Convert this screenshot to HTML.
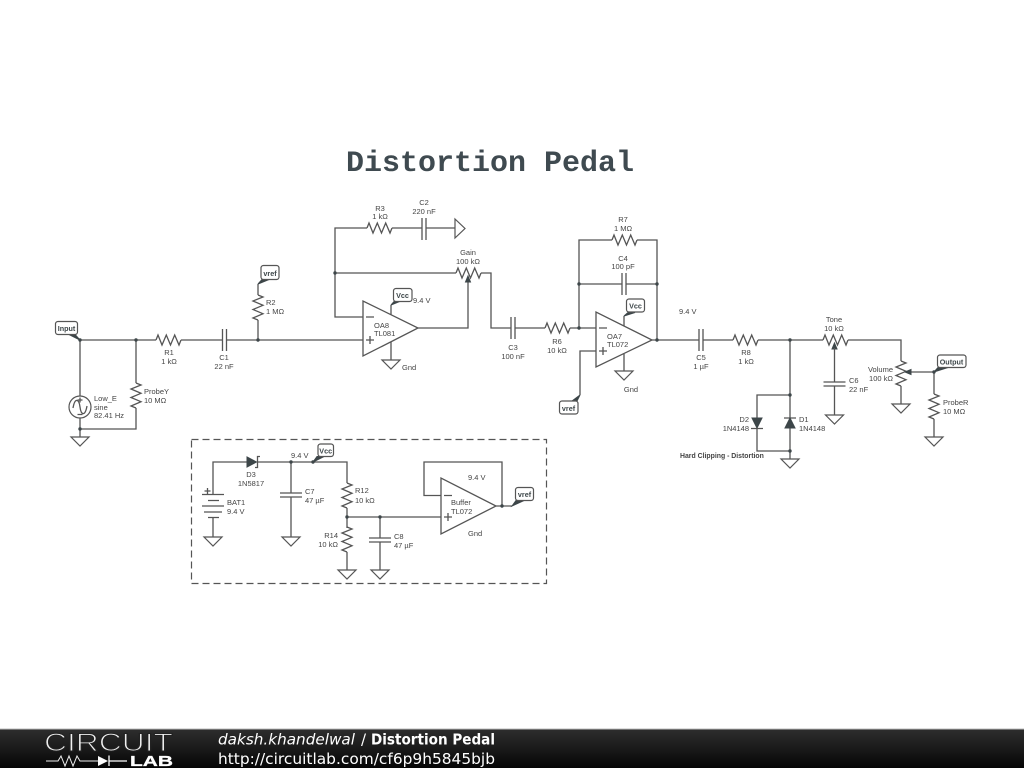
<!DOCTYPE html>
<html><head><meta charset="utf-8"><title>Distortion Pedal</title>
<style>
html,body{margin:0;padding:0;background:#fff;width:1024px;height:768px;overflow:hidden}
svg{display:block}
.w{fill:none;stroke:#555;stroke-width:1.3}
.k{fill:#3d4649;stroke:#3d4649;stroke-width:1}
text{font-family:"Liberation Sans",sans-serif;font-size:7.500px;fill:#444}
.c{text-anchor:middle}
.e{text-anchor:end}
.lb{fill:#fff;stroke:#555;stroke-width:1.2}
.t{font-weight:bold;font-size:7.200px;fill:#3d4649}
</style></head><body>
<svg width="1024" height="768" viewBox="0 0 1024 768" xmlns="http://www.w3.org/2000/svg">
<defs>
<path id="rh" d="M0 0L2 -5L6 5L10.300 -5L14.500 5L18.700 -5L23 5L25 0" fill="none" stroke="#555" stroke-width="1.3"/>
<path id="rv" d="M0 0L5 2L-5 6L5 10.300L-5 14.500L5 18.700L-5 23L0 25" fill="none" stroke="#555" stroke-width="1.3"/>
<path id="gnd" d="M-9 0H9L0 9Z" fill="#fff" stroke="#555" stroke-width="1.2"/>
<circle id="j" r="1.700" fill="#3d4649"/>
<linearGradient id="bar" x1="0" y1="0" x2="0" y2="1"><stop offset="0" stop-color="#2e2e2e"/><stop offset="0.5" stop-color="#1a1a1a"/><stop offset="1" stop-color="#050505"/></linearGradient>
</defs>
<rect width="1024" height="768" fill="#fff"/>
<text x="490" y="171" class="c" style="font-family:'Liberation Mono',monospace;font-size:30px;font-weight:bold;fill:#3f4a50">Distortion Pedal</text>

<!-- Input stage -->
<path class="w" d="M80 340H156M181 340H222.500M226.500 340H363M80 340V396M80 418V437M80 429H136V408M136 340V383"/>
<use href="#rh" x="156" y="340"/>
<path class="w" d="M222.500 329V351M226.500 329V351"/>
<use href="#rv" x="258" y="295"/>
<path class="w" d="M258 340V320M258 295V284"/>
<use href="#rv" x="136" y="383"/>
<circle cx="80" cy="407" r="11" fill="#fff" stroke="#555" stroke-width="1.2"/>
<path class="w" d="M73 408C75 397 79 399 80 407S85 417 87 406M80 397.500V402.500M77.500 400H82.500M77.500 414.500H82.500"/>
<use href="#gnd" x="80" y="437"/>
<use href="#j" x="80" y="340"/><use href="#j" x="136" y="340"/><use href="#j" x="258" y="340"/><use href="#j" x="80" y="429"/>
<path class="k" d="M80 340L69 334.500H75Z"/>
<rect class="lb" x="55.500" y="321.500" width="22" height="13" rx="2.500"/>
<text x="66.500" y="331" class="c t">Input</text>
<path class="k" d="M258 284L262 279.500H269Z"/>
<rect class="lb" x="261" y="265.500" width="18" height="14" rx="2.500"/>
<text x="270" y="276" class="c t">vref</text>
<text x="169" y="355" class="c">R1</text><text x="169" y="364" class="c">1 kΩ</text>
<text x="224" y="360" class="c">C1</text><text x="224" y="369" class="c">22 nF</text>
<text x="266" y="305">R2</text><text x="266" y="314">1 MΩ</text>
<text x="94" y="401">Low_E</text><text x="94" y="410">sine</text><text x="94" y="418">82.41 Hz</text>
<text x="144" y="394">ProbeY</text><text x="144" y="403">10 MΩ</text>

<!-- OA8 stage -->
<path class="w" d="M363 317H335V228H367M392 228H422M426 228H455M335 273H456M481 273H491V328H511M515 328H545M570 328H596M418 328H468V278"/>
<use href="#rh" x="367" y="228"/>
<path class="w" d="M422 218V240M426 218V240"/>
<path d="M455 219V238L465 228.500Z" fill="#fff" stroke="#555" stroke-width="1.2"/>
<use href="#rh" x="456" y="273"/>
<path class="k" d="M468 276L465.500 282H470.500Z"/>
<use href="#j" x="335" y="273"/>
<path d="M363 301V356L418 328Z" fill="#fff" stroke="#555" stroke-width="1.3"/>
<path class="w" d="M366 317H374M366 340H374M370 336V344M391 315V305M391 342V360"/>
<use href="#gnd" x="391" y="360"/>
<path class="k" d="M391 305L395 300.500H402Z"/>
<rect class="lb" x="393.500" y="288.500" width="18.500" height="13" rx="2.500"/>
<text x="402.500" y="298" class="c t">Vcc</text>
<text x="413" y="303">9.4 V</text>
<text x="374" y="328">OA8</text><text x="374" y="336">TL081</text>
<text x="402" y="370">Gnd</text>
<text x="380" y="211" class="c">R3</text><text x="380" y="219" class="c">1 kΩ</text>
<text x="424" y="205" class="c">C2</text><text x="424" y="214" class="c">220 nF</text>
<text x="468" y="255" class="c">Gain</text><text x="468" y="264" class="c">100 kΩ</text>

<!-- OA7 stage -->
<path class="w" d="M511 317V339M515 317V339"/>
<use href="#rh" x="545" y="328"/>
<path class="w" d="M579 328V240H612M637 240H657V340M579 284H622M626 284H657M652 340H699M703 340H733M758 340H823M848 340H901V361M596 351H580V395"/>
<use href="#rh" x="612" y="240"/>
<path class="w" d="M622 273V295M626 273V295"/>
<use href="#j" x="579" y="328"/><use href="#j" x="579" y="284"/><use href="#j" x="657" y="284"/><use href="#j" x="657" y="340"/>
<path d="M596 312V367L652 340Z" fill="#fff" stroke="#555" stroke-width="1.3"/>
<path class="w" d="M599 328H607M599 351H607M603 347V355M624 326V316M624 354V371"/>
<use href="#gnd" x="624" y="371"/>
<path class="k" d="M624 316L628 312.500H635Z"/>
<rect class="lb" x="626.500" y="299" width="18" height="13" rx="2.500"/>
<text x="635.500" y="308.500" class="c t">Vcc</text>
<path class="k" d="M580 395L572 401H577Z"/>
<rect class="lb" x="559.500" y="401" width="18.500" height="13" rx="2.500"/>
<text x="568.500" y="411" class="c t">vref</text>
<text x="607" y="339">OA7</text><text x="607" y="347">TL072</text>
<text x="631" y="392" class="c">Gnd</text>
<text x="623" y="222" class="c">R7</text><text x="623" y="231" class="c">1 MΩ</text>
<text x="623" y="261" class="c">C4</text><text x="623" y="269" class="c">100 pF</text>
<text x="513" y="350" class="c">C3</text><text x="513" y="359" class="c">100 nF</text>
<text x="557" y="344" class="c">R6</text><text x="557" y="353" class="c">10 kΩ</text>
<text x="679" y="314">9.4 V</text>

<!-- Output stage -->
<path class="w" d="M699 329V351M703 329V351"/>
<use href="#rh" x="733" y="340"/>
<use href="#rh" x="823" y="340"/>
<path class="k" d="M834.500 343L832 349H837Z"/>
<path class="w" d="M834.500 348V382M834.500 386V415M823.500 382H845.500M823.500 386H845.500"/>
<use href="#gnd" x="834.500" y="415"/>
<use href="#rv" x="901" y="361"/>
<path class="w" d="M901 386V404M908 372H934M934 372V394M934 419V437"/>
<path class="k" d="M905 372L911 369.500V374.500Z"/>
<use href="#gnd" x="901" y="404"/>
<use href="#rv" x="934" y="394"/>
<use href="#gnd" x="934" y="437"/>
<use href="#j" x="934" y="372"/>
<path class="k" d="M934 372L938 367.500H948Z"/>
<rect class="lb" x="937.500" y="355" width="28.500" height="12.500" rx="2.500"/>
<text x="951.500" y="364.500" class="c t">Output</text>
<path class="w" d="M790 340V459M790 395H757V451H790"/>
<use href="#j" x="790" y="340"/><use href="#j" x="790" y="395"/><use href="#j" x="790" y="451"/>
<path class="k" d="M752 418H762L757 428Z"/>
<path class="w" d="M751 428.500H763M784 418H796"/>
<path class="k" d="M785 428H795L790 418Z"/>
<use href="#gnd" x="790" y="459"/>
<text x="701" y="360" class="c">C5</text><text x="701" y="369" class="c">1 µF</text>
<text x="746" y="355" class="c">R8</text><text x="746" y="364" class="c">1 kΩ</text>
<text x="834" y="322" class="c">Tone</text><text x="834" y="331" class="c">10 kΩ</text>
<text x="849" y="383">C6</text><text x="849" y="392">22 nF</text>
<text x="893" y="372" class="e">Volume</text><text x="893" y="381" class="e">100 kΩ</text>
<text x="943" y="405">ProbeR</text><text x="943" y="414">10 MΩ</text>
<text x="749" y="422" class="e">D2</text><text x="749" y="431" class="e">1N4148</text>
<text x="799" y="422">D1</text><text x="799" y="431">1N4148</text>
<text x="680" y="458" style="font-weight:bold;font-size:6.900px">Hard Clipping - Distortion</text>

<!-- Power box -->
<rect x="191.500" y="439.500" width="355" height="144" fill="none" stroke="#555" stroke-width="1.2" stroke-dasharray="7 4"/>
<path class="w" d="M213 494.500V462H247M258 462H347V483M213 517.500V537M291 462V493M291 497V537M347 508V528M347 552V570M347 517H441M380 517V538M380 542V570M441 495.500H424V462H502V506M496 506H512"/>
<path class="w" d="M202 494.500H224M208 500.500H219M202 506H224M204 512H222M208 517.500H219M204.500 491H210.500M207.500 488V494"/>
<path class="k" d="M247 457V467L256.500 462Z"/>
<path class="w" d="M260 456.500H257.500V467.500H255"/>
<use href="#rv" x="347" y="483"/>
<use href="#rv" x="347" y="527"/>
<path class="w" d="M280 493H302M280 497H302M369 538H391M369 542H391"/>
<use href="#gnd" x="213" y="537"/><use href="#gnd" x="291" y="537"/><use href="#gnd" x="347" y="570"/><use href="#gnd" x="380" y="570"/>
<use href="#j" x="291" y="462"/><use href="#j" x="313" y="462"/><use href="#j" x="347" y="517"/><use href="#j" x="380" y="517"/><use href="#j" x="502" y="506"/>
<path d="M441 478V534L496 506Z" fill="#fff" stroke="#555" stroke-width="1.3"/>
<path class="w" d="M444 495.500H452M444 517H452M448 513V521"/>
<path class="k" d="M313 462L317 456.500H324Z"/>
<rect class="lb" x="318" y="444" width="15.500" height="12.500" rx="2.500"/>
<text x="325.700" y="453.500" class="c t">Vcc</text>
<path class="k" d="M512 506L516 500.500H524Z"/>
<rect class="lb" x="515.500" y="487.500" width="18" height="13" rx="2.500"/>
<text x="524.500" y="497" class="c t">vref</text>
<text x="291" y="458">9.4 V</text>
<text x="251" y="477" class="c">D3</text><text x="251" y="486" class="c">1N5817</text>
<text x="227" y="505">BAT1</text><text x="227" y="514">9.4 V</text>
<text x="305" y="494">C7</text><text x="305" y="503">47 µF</text>
<text x="355" y="493">R12</text><text x="355" y="503">10 kΩ</text>
<text x="338" y="538" class="e">R14</text><text x="338" y="547" class="e">10 kΩ</text>
<text x="394" y="539">C8</text><text x="394" y="548">47 µF</text>
<text x="468" y="480">9.4 V</text>
<text x="451" y="505">Buffer</text><text x="451" y="514">TL072</text>
<text x="468" y="536">Gnd</text>

<!-- Footer -->
<rect x="0" y="729" width="1024" height="39" fill="url(#bar)"/>
<rect x="0" y="728.500" width="1024" height="1" fill="#bbb"/>
<text x="44" y="751" textLength="129" lengthAdjust="spacingAndGlyphs" style="font-size:25px;fill:#f0f0f0;stroke:#222;stroke-width:1.100">CIRCUIT</text>
<path d="M46 761H58L61 756L65 766L69 756L73 766L77 756L80 761H98" fill="none" stroke="#eee" stroke-width="1"/>
<path d="M98 756V766L108 761Z" fill="#fff"/>
<path d="M109 755.500V766M109 761H127" stroke="#fff" stroke-width="1.300" fill="none"/>
<text x="130" y="766" textLength="43" lengthAdjust="spacingAndGlyphs" style="font-size:15px;font-weight:bold;fill:#fff;stroke:#fff;stroke-width:0.300">LAB</text>
<text x="218" y="744.500" textLength="137" lengthAdjust="spacingAndGlyphs" style="font-family:'DejaVu Sans',sans-serif;font-size:15px;font-style:italic;fill:#fff">daksh.khandelwal</text>
<text x="361" y="744.500" style="font-family:'DejaVu Sans',sans-serif;font-size:15px;fill:#fff">/</text>
<text x="371" y="744.500" textLength="124" lengthAdjust="spacingAndGlyphs" style="font-family:'DejaVu Sans',sans-serif;font-size:15px;font-weight:bold;fill:#fff">Distortion Pedal</text>
<text x="218" y="764" textLength="277" lengthAdjust="spacingAndGlyphs" style="font-family:'DejaVu Sans',sans-serif;font-size:15.300px;fill:#fff">http://circuitlab.com/cf6p9h5845bjb</text>
</svg>
</body></html>
